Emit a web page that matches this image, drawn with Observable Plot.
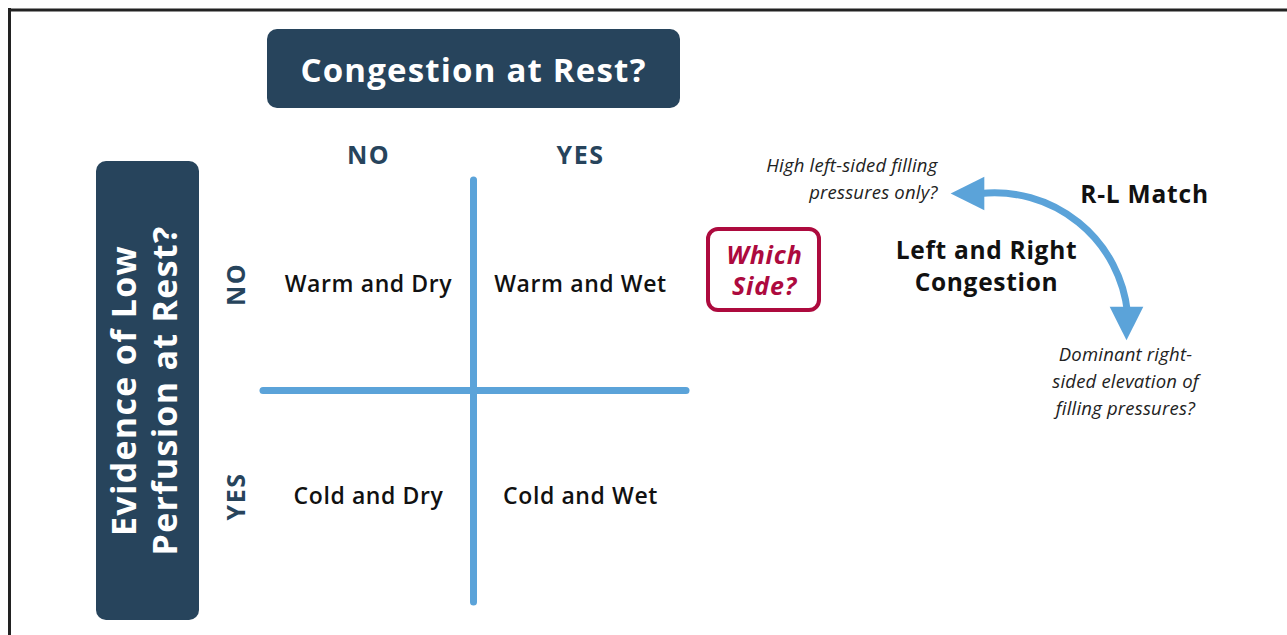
<!DOCTYPE html>
<html>
<head>
<meta charset="utf-8">
<script src="https://cdn.jsdelivr.net/npm/d3@7"></script>
<script src="https://cdn.jsdelivr.net/npm/@observablehq/plot@0.6"></script>
<style>
  html, body { margin: 0; padding: 0; background: #fff; }
  #chart svg { display: block; }
</style>
</head>
<body>
<div id="chart"></div>
<script>
// ---- content ----
const columnTitle = "Congestion at Rest?";
const rowTitle = ["Evidence of Low", "Perfusion at Rest?"];
const columnLabels = ["NO", "YES"];
const rowLabels = ["NO", "YES"];
const quadrantLabels = [["Warm and Dry", "Warm and Wet"], ["Cold and Dry", "Cold and Wet"]];
const whichSide = ["Which", "Side?"];
const centerLabel = ["Left and Right", "Congestion"];
const matchLabel = "R-L Match";
const leftQuestion = ["High left-sided filling", "pressures only?"];
const rightQuestion = ["Dominant right-", "sided elevation of", "filling pressures?"];

// ---- style ----
const navy = "#27445c", blue = "#5ba3d9", crimson = "#ad0a3e", ink = "#111";
const W = 1287, H = 635;
const font = "'Open Sans', Lato, sans-serif";

// ---- layout (pixel space) ----
const colX = [368, 580];
const rowY = [284, 496];
const gridX = 473, gridY = 390;

const lines = (arr, x, y0, dy) => arr.map((t, i) => ({t, x, y: y0 + i * dy}));

// custom triangle symbols
const triLeft = {draw(ctx, size) { const s = Math.sqrt(size); ctx.moveTo(-s/2, 0); ctx.lineTo(s/2, -s/2); ctx.lineTo(s/2, s/2); ctx.closePath(); }};
const triDown = {draw(ctx, size) { const s = Math.sqrt(size); ctx.moveTo(0, s/2); ctx.lineTo(-s/2, -s/2); ctx.lineTo(s/2, -s/2); ctx.closePath(); }};

const quadData = quadrantLabels.flatMap((row, i) => row.map((t, j) => ({t, x: colX[j], y: rowY[i]})));

const spaced = (mark, ls) => { // add letter spacing to a text mark
  return {render(index, scales, values, dims, ctx, next) {
    const g = mark.render(index, scales, values, dims, ctx, next);
    g.setAttribute("letter-spacing", ls);
    return g;
  }};
};
const T = (data, opts, ls) => Plot.text(data, {...opts, render: (index, scales, values, dims, ctx, next) => {
  const g = next(index, scales, values, dims, ctx);
  g.setAttribute("letter-spacing", ls);
  return g;
}});

const chart = Plot.plot({
  width: W, height: H,
  margin: 0,
  x: {domain: [0, W], range: [0, W], axis: null},
  y: {domain: [0, H], range: [0, H], axis: null},
  style: {fontFamily: font, background: "#fff"},
  marks: [
    // frame
    Plot.ruleY([9.5], {x1: 8, x2: W, stroke: "#222", strokeWidth: 3}),
    Plot.ruleX([9], {y1: 8, y2: H, stroke: "#222", strokeWidth: 3}),
    // header boxes
    Plot.rect([columnTitle], {x1: 267, x2: 680, y1: 29, y2: 108, fill: navy, rx: 10}),
    T([columnTitle], {x: 473, y: 71, text: d => d, fill: "#fff", fontSize: 33, fontWeight: 700}, 1.2),
    Plot.rect([rowTitle], {x1: 96, x2: 199, y1: 161, y2: 620, fill: navy, rx: 10}),
    T(rowTitle.map((t, i) => ({t, x: 125 + i * 41})), {x: "x", y: 390, text: "t", rotate: -90, fill: "#fff", fontSize: 34, fontWeight: 700}, 1.3),
    // axis labels
    T(columnLabels.map((t, i) => ({t, x: colX[i]})), {x: "x", y: 155, text: "t", fill: navy, fontSize: 25, fontWeight: 700}, 1.5),
    T(rowLabels.map((t, i) => ({t, y: rowY[i]})), {x: 236, y: "y", text: "t", rotate: -90, fill: navy, fontSize: 25, fontWeight: 700}, 1.5),
    // grid cross
    Plot.ruleX([gridX], {y1: 180, y2: 602, stroke: blue, strokeWidth: 7, strokeLinecap: "round"}),
    Plot.ruleY([gridY], {x1: 263, x2: 686, stroke: blue, strokeWidth: 7, strokeLinecap: "round"}),
    // quadrant labels
    T(quadData, {x: "x", y: "y", text: "t", fill: ink, fontSize: 23, fontWeight: 600}, 0.6),
    // which side box
    Plot.rect([whichSide], {x1: 708, x2: 819, y1: 229, y2: 310, fill: "none", stroke: crimson, strokeWidth: 4, rx: 10}),
    T(lines(whichSide, 764, 255, 31), {x: "x", y: "y", text: "t", fill: crimson, fontSize: 25, fontWeight: 700, fontStyle: "italic"}, 0.8),
    // center label
    T(lines(centerLabel, 986, 251, 32), {x: "x", y: "y", text: "t", fill: ink, fontSize: 24.5, fontWeight: 700}, 0.7),
    T([matchLabel], {x: 1144, y: 195, text: d => d, fill: ink, fontSize: 24.5, fontWeight: 700}, 0.8),
    // questions
    T(lines(leftQuestion, 937, 166, 27), {x: "x", y: "y", text: "t", textAnchor: "end", fill: "#222", fontSize: 18.5, fontWeight: 500, fontStyle: "italic"}, 0.2),
    T(lines(rightQuestion, 1125, 355, 27), {x: "x", y: "y", text: "t", fill: "#222", fontSize: 18.5, fontWeight: 500, fontStyle: "italic"}, 0.2),
    // curved arrow
    Plot.arrow([matchLabel], {x1: 980, y1: 193, x2: 1127, y2: 312, bend: 45, headLength: 0, stroke: blue, strokeWidth: 7}),
    Plot.dot([matchLabel], {x: 967, y: 193, symbol: triLeft, r: 19, fill: blue, stroke: "none"}),
    Plot.dot([matchLabel], {x: 1126, y: 323, symbol: triDown, r: 19, fill: blue, stroke: "none"})
  ]
});
document.getElementById("chart").append(chart);
</script>
</body>
</html>
